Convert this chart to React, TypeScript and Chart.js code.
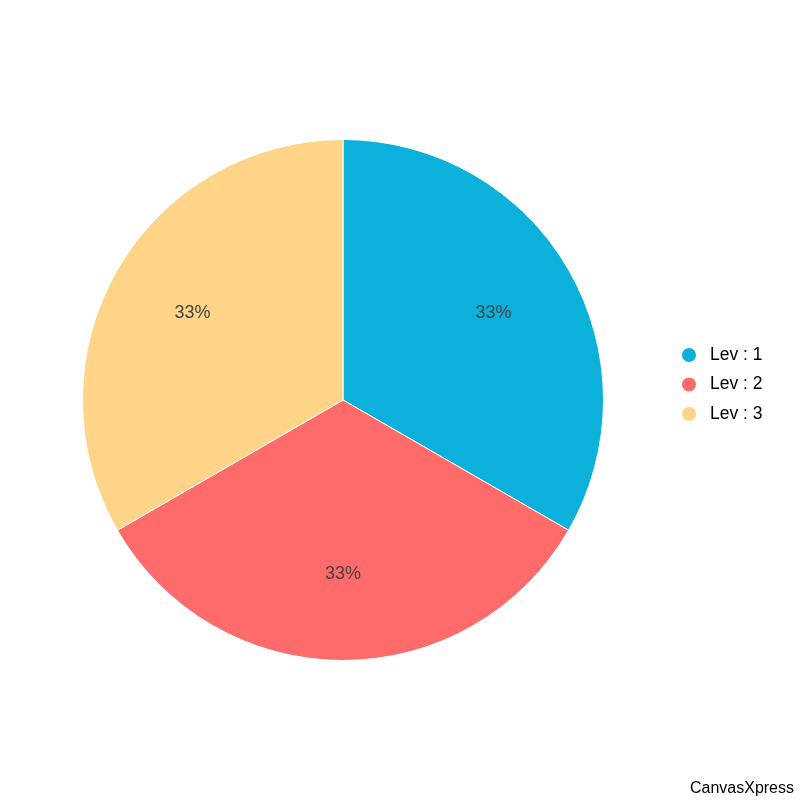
import React, { useEffect, useRef } from "react";
import { Chart, registerables } from "chart.js";

Chart.register(...registerables);

const categories: string[] = ["Lev : 1", "Lev : 2", "Lev : 3"];
const values: number[] = [1, 1, 1];
const colors: string[] = ["#0BB0DB", "#FF6B6B", "#FDD488"];
const FONT = "'Liberation Sans', Arial, Helvetica, sans-serif";

const overlayPlugin = {
  id: "overlay",
  afterDatasetsDraw(chart: any) {
    const ctx = chart.ctx as CanvasRenderingContext2D;
    const meta = chart.getDatasetMeta(0);
    const total = values.reduce((a, b) => a + b, 0);
    ctx.save();
    ctx.font = `18px ${FONT}`;
    ctx.fillStyle = "#444444";
    ctx.textAlign = "center";
    ctx.textBaseline = "middle";
    meta.data.forEach((arc: any, i: number) => {
      const p = arc.getProps(["x", "y", "startAngle", "endAngle", "outerRadius"], true);
      const mid = (p.startAngle + p.endAngle) / 2;
      const r = p.outerRadius * 0.667;
      const pct = Math.round((values[i] / total) * 100) + "%";
      ctx.fillText(pct, p.x + Math.cos(mid) * r, p.y + Math.sin(mid) * r);
    });
    // legend
    const lx = 689;
    const ly0 = 355;
    const step = 29.5;
    categories.forEach((c, i) => {
      const y = ly0 + i * step;
      ctx.beginPath();
      ctx.arc(lx, y, 7, 0, Math.PI * 2);
      ctx.fillStyle = colors[i];
      ctx.fill();
      ctx.fillStyle = "#000000";
      ctx.textAlign = "left";
      ctx.font = `17.5px ${FONT}`;
      ctx.fillText(c, 710, y);
    });
    ctx.font = `16px ${FONT}`;
    ctx.textAlign = "right";
    ctx.fillStyle = "#000000";
    ctx.fillText("CanvasXpress", 794, 789);
    ctx.restore();
  },
};

export default function App() {
  const ref = useRef<HTMLCanvasElement | null>(null);
  useEffect(() => {
    if (!ref.current) return;
    const chart = new Chart(ref.current, {
      type: "pie",
      data: {
        labels: categories,
        datasets: [
          {
            data: values,
            backgroundColor: colors,
            borderColor: "#ffffff",
            borderWidth: 1,
          },
        ],
      },
      options: {
        animation: false,
        responsive: false,
        maintainAspectRatio: false,
        layout: { padding: { left: 82, right: 196, top: 139, bottom: 139 } },
        plugins: {
          legend: { display: false },
          tooltip: { enabled: false },
        },
      },
      plugins: [overlayPlugin],
    });
    return () => chart.destroy();
  }, []);
  return (
    <div style={{ position: "fixed", left: 0, top: 0, width: 800, height: 800, background: "#ffffff" }}>
      <canvas ref={ref} width={800} height={800} style={{ width: 800, height: 800 }} />
    </div>
  );
}
